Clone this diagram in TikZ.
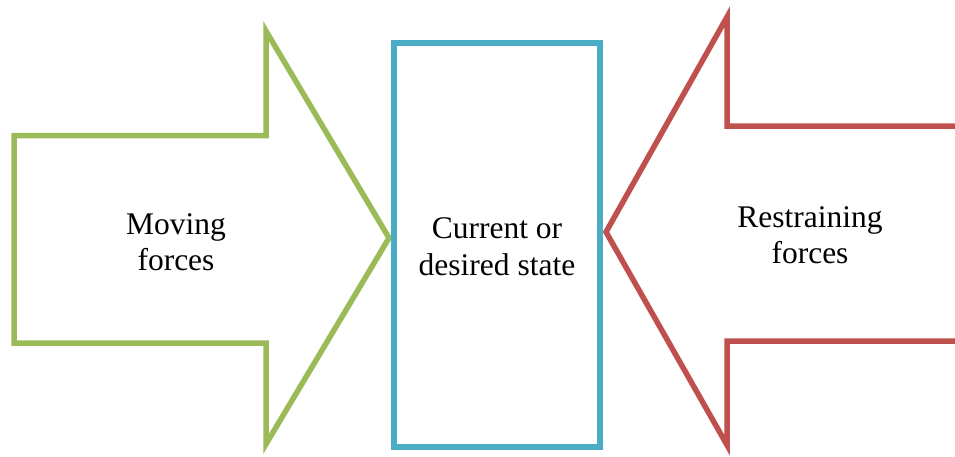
\documentclass[tikz,border=0pt]{standalone}
\usepackage{fontspec}
\setmainfont{Liberation Serif}
\definecolor{movegreen}{HTML}{9BBB59}
\definecolor{stateblue}{HTML}{4BACC6}
\definecolor{holdred}{HTML}{C0504D}
\tikzset{force/.style={line width=5.5pt,fill=white},
         forcetext/.style={font=\fontsize{31.5}{36.5}\selectfont,align=center},
         statebox/.style={draw=stateblue,line width=6pt,minimum width=206pt,minimum height=404pt}}

\begin{document}
\begin{tikzpicture}[x=1pt,y=-1pt]
        \useasboundingbox (0,0) rectangle (955,456);

        % pushing arrow from the left
        \draw[force,draw=movegreen] (14,135.5)--(266,135.5)--(266,31)--(389,238)
              --(266,444)--(266,343)--(14,343)--cycle;
        % holding arrow from the right, its tail runs off the page
        \draw[force,draw=holdred] (970,126)--(727,126)--(727,17)--(606,232)
              --(727,445)--(727,341)--(970,341);

        \node[statebox](state)at(497,245){};
        \node[forcetext](cur)at(497,246.5){Current or\\desired state};
        \node[forcetext](mov)at(176,242){Moving\\forces};
        \node[forcetext](res)at(810,235){Restraining\\forces};
    \end{tikzpicture}
\end{document}
